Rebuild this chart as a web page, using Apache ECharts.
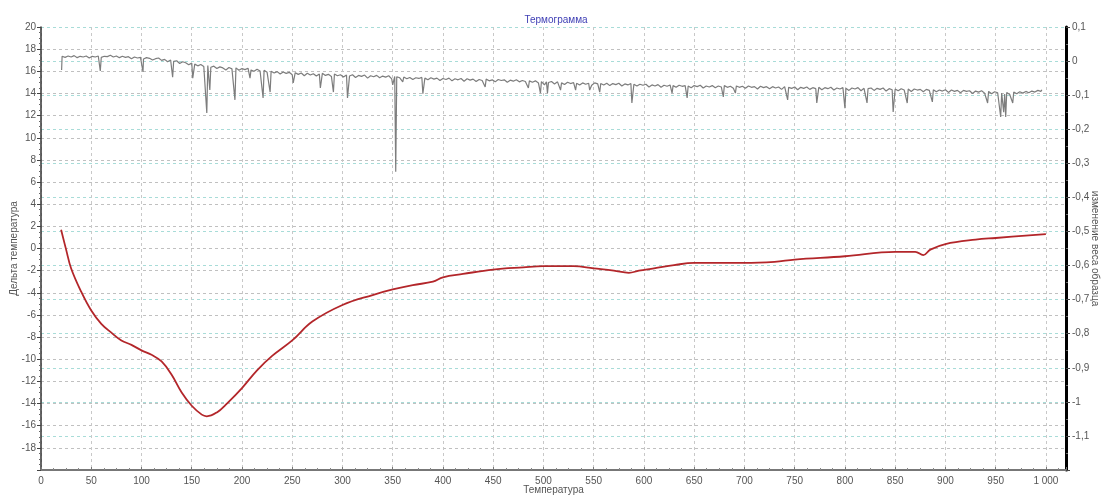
<!DOCTYPE html>
<html>
<head>
<meta charset="utf-8">
<title>Термограмма</title>
<script src="https://cdn.jsdelivr.net/npm/echarts@6/dist/echarts.min.js"></script>
<style>
  html, body { margin: 0; padding: 0; background: #fff; }
  #chart { width: 1101px; height: 495px; }
</style>
</head>
<body>
<div id="chart"></div>
<script>
// Delta temperature curve, [temperature, delta] (left axis)
const deltaTemp = [
  [20, 1.7], [25, -0.1], [30, -1.8], [40, -3.9], [50, -5.6], [60, -6.8],
  [70, -7.6], [80, -8.3], [90, -8.7], [100, -9.2], [110, -9.6], [120, -10.2],
  [130, -11.4], [140, -13.0], [150, -14.2], [160, -15.0], [165, -15.15],
  [175, -14.8], [185, -14.0], [200, -12.6], [215, -11.0], [230, -9.7],
  [250, -8.3], [270, -6.6], [300, -5.1], [330, -4.2], [350, -3.7], [370, -3.3],
  [390, -3.0], [400, -2.6], [420, -2.3], [450, -1.9], [480, -1.7], [500, -1.6],
  [530, -1.6], [550, -1.8], [570, -2.0], [585, -2.2], [595, -2.0], [610, -1.8],
  [630, -1.5], [650, -1.3], [700, -1.3], [730, -1.2], [750, -1.0], [800, -0.7],
  [850, -0.3], [870, -0.3], [878, -0.6], [885, -0.1], [900, 0.4], [930, 0.8],
  [950, 0.95], [1000, 1.3]
];

// Sample weight change, [temperature, change] (right axis)
const weightChange = [
  [20.5,-0.026],[21,0.014],[24,0.011],[27,0.015],[30,0.012],[33,0.016],[36,0.010],
  [39,0.014],[42,0.012],[45,0.015],[48,0.009],[51,0.014],[54,0.012],[57,0.015],
  [59,-0.029],[60,0.011],[63,0.014],[66,0.013],[69,0.017],[72,0.012],[75,0.015],
  [78,0.010],[81,0.014],[84,0.011],[87,0.013],[90,0.007],[93,0.012],[96,0.009],
  [99,0.011],[101.5,-0.032],[102,0.006],[105,0.010],[108,0.008],[111,0.003],
  [114,0.007],[117,0.009],[120,0.002],[123,0.005],[126,-0.002],[129,0.003],
  [131,-0.047],[132,-0.001],[135,0.001],[138,-0.007],[141,-0.002],[144,-0.005],
  [147,-0.011],[150,-0.006],[151,-0.050],[153,-0.009],[156,-0.014],[159,-0.010],
  [162,-0.016],[165,-0.152],[166,-0.013],[168,-0.085],[169,-0.018],[172,-0.015],
  [175,-0.022],[178,-0.017],[181,-0.020],[184,-0.026],[187,-0.019],[190,-0.023],
  [193,-0.114],[194,-0.020],[197,-0.027],[200,-0.022],[203,-0.025],[206,-0.021],
  [208,-0.050],[209,-0.026],[212,-0.030],[215,-0.024],[218,-0.029],[221,-0.108],
  [222,-0.027],[225,-0.033],[228,-0.091],[229,-0.030],[232,-0.035],[235,-0.031],
  [238,-0.038],[241,-0.032],[244,-0.036],[247,-0.033],[250,-0.040],[251,-0.064],
  [253,-0.034],[256,-0.039],[259,-0.035],[262,-0.043],[265,-0.036],[268,-0.041],
  [271,-0.037],[274,-0.044],[277,-0.038],[278,-0.079],[280,-0.036],[283,-0.042],
  [286,-0.039],[289,-0.045],[291,-0.091],[292,-0.038],[295,-0.043],[298,-0.040],
  [301,-0.047],[304,-0.041],[305,-0.108],[307,-0.044],[310,-0.040],[313,-0.048],
  [316,-0.042],[319,-0.045],[322,-0.041],[325,-0.050],[328,-0.043],[331,-0.046],
  [334,-0.042],[337,-0.049],[340,-0.044],[343,-0.047],[346,-0.043],[349,-0.052],
  [350,-0.070],[352,-0.045],[353,-0.325],[354,-0.046],[357,-0.049],[360,-0.061],
  [361,-0.047],[364,-0.052],[367,-0.048],[370,-0.054],[373,-0.049],[376,-0.051],
  [379,-0.048],[380,-0.096],[382,-0.050],[385,-0.055],[388,-0.049],[391,-0.053],
  [394,-0.050],[397,-0.057],[400,-0.051],[403,-0.054],[406,-0.050],[409,-0.058],
  [412,-0.052],[415,-0.055],[418,-0.051],[421,-0.059],[424,-0.052],[427,-0.056],
  [430,-0.053],[433,-0.060],[436,-0.054],[439,-0.057],[442,-0.076],[443,-0.053],
  [446,-0.058],[449,-0.055],[452,-0.061],[455,-0.054],[458,-0.057],[461,-0.055],
  [464,-0.062],[467,-0.056],[470,-0.059],[473,-0.055],[476,-0.061],[479,-0.057],
  [482,-0.060],[485,-0.079],[486,-0.058],[489,-0.062],[492,-0.058],[495,-0.064],
  [497,-0.094],[498,-0.060],[501,-0.070],[503,-0.061],[504,-0.094],[505,-0.063],
  [508,-0.060],[511,-0.067],[514,-0.061],[517,-0.085],[518,-0.064],[521,-0.069],
  [524,-0.062],[527,-0.066],[530,-0.063],[532,-0.085],[533,-0.065],[536,-0.070],
  [539,-0.064],[542,-0.068],[545,-0.065],[546,-0.085],[548,-0.071],[551,-0.064],
  [554,-0.067],[556,-0.091],[557,-0.066],[560,-0.070],[563,-0.065],[566,-0.072],
  [569,-0.066],[572,-0.069],[575,-0.065],[578,-0.073],[581,-0.067],[584,-0.070],
  [587,-0.066],[588,-0.123],[590,-0.068],[593,-0.073],[596,-0.068],[599,-0.071],
  [602,-0.068],[605,-0.076],[608,-0.070],[611,-0.073],[614,-0.069],[617,-0.077],
  [620,-0.071],[623,-0.074],[626,-0.070],[628,-0.094],[629,-0.072],[632,-0.077],
  [635,-0.071],[638,-0.074],[641,-0.072],[643,-0.108],[644,-0.073],[647,-0.078],
  [650,-0.072],[653,-0.075],[656,-0.071],[659,-0.079],[662,-0.073],[665,-0.076],
  [668,-0.072],[671,-0.078],[674,-0.073],[677,-0.076],[679,-0.105],[680,-0.072],
  [683,-0.077],[686,-0.074],[689,-0.080],[691,-0.094],[692,-0.073],[695,-0.077],
  [698,-0.074],[701,-0.080],[704,-0.073],[707,-0.077],[710,-0.075],[713,-0.082],
  [716,-0.074],[719,-0.078],[722,-0.075],[725,-0.081],[728,-0.075],[731,-0.079],
  [734,-0.076],[737,-0.083],[740,-0.075],[743,-0.114],[744,-0.077],[747,-0.080],
  [750,-0.076],[753,-0.084],[756,-0.077],[759,-0.080],[762,-0.076],[765,-0.083],
  [768,-0.078],[771,-0.081],[772,-0.123],[774,-0.077],[777,-0.084],[780,-0.078],
  [783,-0.081],[786,-0.077],[789,-0.085],[792,-0.079],[795,-0.082],[798,-0.078],
  [800,-0.138],[801,-0.080],[804,-0.086],[807,-0.079],[810,-0.082],[813,-0.078],
  [816,-0.087],[819,-0.080],[822,-0.123],[823,-0.081],[826,-0.079],[829,-0.086],
  [832,-0.080],[835,-0.083],[838,-0.079],[841,-0.088],[844,-0.081],[847,-0.084],
  [848,-0.149],[850,-0.082],[853,-0.087],[856,-0.081],[859,-0.085],[862,-0.123],
  [863,-0.082],[866,-0.089],[869,-0.082],[872,-0.085],[875,-0.083],[878,-0.090],
  [881,-0.083],[884,-0.086],[887,-0.120],[888,-0.084],[891,-0.090],[894,-0.085],
  [897,-0.088],[900,-0.084],[903,-0.092],[906,-0.085],[909,-0.089],[912,-0.086],
  [915,-0.093],[918,-0.086],[921,-0.089],[924,-0.087],[927,-0.095],[930,-0.088],
  [933,-0.091],[936,-0.087],[939,-0.094],[942,-0.123],[943,-0.089],[946,-0.096],
  [949,-0.090],[952,-0.093],[955,-0.164],[956,-0.094],[958,-0.150],[959,-0.097],
  [960,-0.164],[961,-0.092],[964,-0.098],[967,-0.123],[968,-0.091],[971,-0.096],
  [974,-0.090],[977,-0.094],[980,-0.089],[983,-0.093],[986,-0.088],[989,-0.091],
  [992,-0.086],[995,-0.089],[996,-0.084]
];

const titleText = 'Термограмма';
const xName = 'Температура';
const leftName = 'Дельта температура';
const rightName = 'изменение веса образца';

const FONT = 'Liberation Sans, Arial, sans-serif';
const labelStyle = { color: '#555', fontSize: 10, fontFamily: FONT };
const nameStyle = { color: '#555', fontSize: 10, fontFamily: FONT };

// thousands separated by a space, decimals by a comma
function fmtThousands(v) {
  return String(v).replace(/\B(?=(\d{3})+(?!\d))/g, ' ');
}
function fmtComma(v) {
  const r = Math.round(v * 10) / 10;
  return String(r).replace('.', ',');
}

const chart = echarts.init(document.getElementById('chart'), null, { renderer: 'canvas' });

chart.setOption({
  animation: false,
  backgroundColor: '#fff',
  title: {
    text: titleText,
    left: 551,
    textAlign: 'center',
    top: 10,
    textStyle: { color: '#3f3fb5', fontSize: 10, fontWeight: 'normal', fontFamily: FONT }
  },
  grid: { left: 41, right: 35, top: 27, bottom: 25, containLabel: false, outerBoundsMode: 'none' },
  xAxis: {
    type: 'value',
    min: 0,
    max: 1020,
    interval: 50,
    name: xName,
    nameLocation: 'middle',
    nameGap: 15,
    nameMoveOverlap: false,
    nameTextStyle: nameStyle,
    axisLine: { show: true, onZero: false, lineStyle: { color: '#777', width: 2 } },
    axisTick: { show: true, inside: true, length: 3, lineStyle: { color: '#777' } },
    minorTick: { show: true, splitNumber: 4, length: 2, lineStyle: { color: '#888' } },
    axisLabel: Object.assign({ margin: 6, showMaxLabel: false, formatter: fmtThousands }, labelStyle),
    splitLine: { show: true, lineStyle: { color: '#c8c8c8', type: [3, 3], width: 1 } }
  },
  yAxis: [
    {
      type: 'value',
      position: 'left',
      min: -20,
      max: 20,
      interval: 2,
      name: leftName,
      nameLocation: 'middle',
      nameRotate: 90,
      nameGap: 22,
      nameMoveOverlap: false,
      nameTextStyle: nameStyle,
      axisLine: { show: true, onZero: false, lineStyle: { color: '#333', width: 1.5 } },
      axisTick: { show: true, inside: false, length: 4, lineStyle: { color: '#444' } },
      minorTick: { show: true, splitNumber: 4, length: 2, lineStyle: { color: '#666' } },
      axisLabel: Object.assign({ margin: 5, showMinLabel: false }, labelStyle),
      splitLine: { show: true, lineStyle: { color: '#c0c0c0', type: [3, 3], width: 1 } }
    },
    {
      type: 'value',
      position: 'right',
      min: -1.2,
      max: 0.1,
      interval: 0.1,
      name: rightName,
      nameLocation: 'middle',
      nameRotate: -90,
      nameGap: 24,
      nameMoveOverlap: false,
      nameTextStyle: nameStyle,
      axisLine: { show: true, onZero: false, lineStyle: { color: '#000', width: 3 } },
      axisTick: { show: true, inside: false, length: 4, lineStyle: { color: '#444' } },
      minorTick: { show: true, splitNumber: 2, length: 2, lineStyle: { color: '#666' } },
      axisLabel: Object.assign({ margin: 6, showMinLabel: false, formatter: fmtComma }, labelStyle),
      splitLine: { show: true, lineStyle: { color: '#a8dcd8', type: [3, 3], width: 1 } }
    }
  ],
  series: [
    {
      name: rightName,
      type: 'line',
      yAxisIndex: 1,
      data: weightChange,
      showSymbol: false,
      symbol: 'none',
      lineStyle: { color: '#7d7d7d', width: 1.2 },
      z: 3
    },
    {
      name: leftName,
      type: 'line',
      yAxisIndex: 0,
      data: deltaTemp,
      smooth: 0.4,
      showSymbol: false,
      symbol: 'none',
      lineStyle: { color: '#b3262a', width: 1.8 },
      z: 4
    }
  ]
});
</script>
</body>
</html>
